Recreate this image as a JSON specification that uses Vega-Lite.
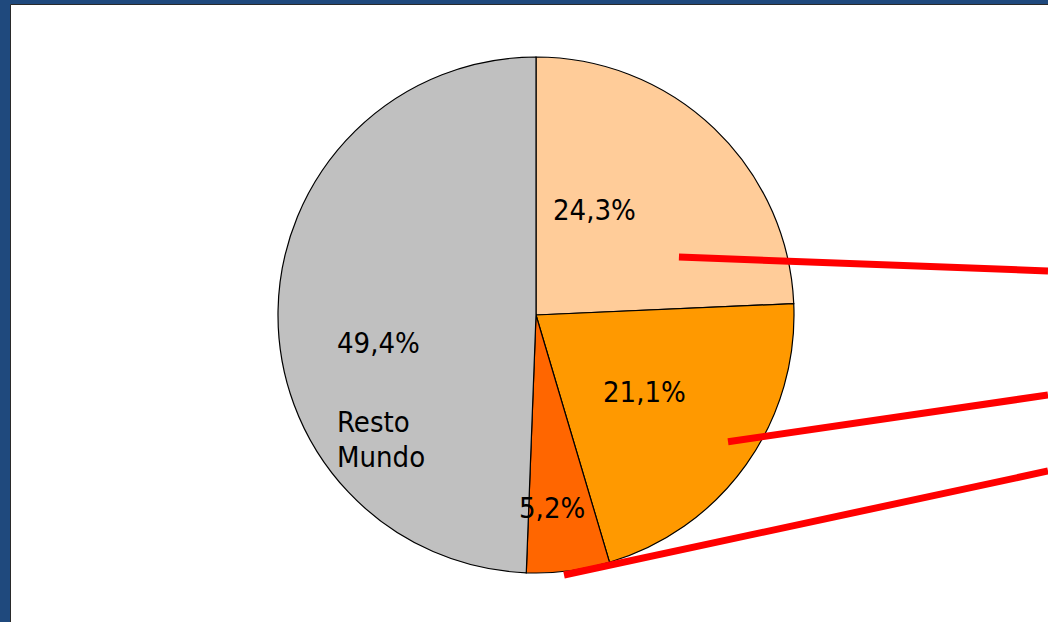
{
  "$schema": "https://vega.github.io/schema/vega-lite/v6.json",
  "width": 1048,
  "height": 622,
  "autosize": {"type": "fit", "contains": "padding"},
  "padding": {"left": 10, "top": 4, "right": 0, "bottom": 0},
  "background": "#1F497D",
  "view": {"fill": "white", "stroke": "#2a2a2a", "strokeWidth": 1},
  "datasets": {
    "slices": [
      {"name": "A", "value": 24.3, "order": 1},
      {"name": "B", "value": 21.1, "order": 2},
      {"name": "C", "value": 5.2, "order": 3},
      {"name": "Resto Mundo", "value": 49.4, "order": 4}
    ],
    "labels": [
      {"text": "24,3%", "u": 0.0659, "v": 0.3682},
      {"text": "21,1%", "u": 0.2597, "v": -0.336},
      {"text": "5,2%", "u": -0.0659, "v": -0.787},
      {"text": "49,4%", "u": -0.7713, "v": -0.146},
      {"text": "Resto", "u": -0.7713, "v": -0.452},
      {"text": "Mundo", "u": -0.7713, "v": -0.588}
    ],
    "lines": [
      {"line": "L1", "pt": 1, "u": 0.554, "v": 0.2248},
      {"line": "L1", "pt": 2, "u": 1.9845, "v": 0.1705},
      {"line": "L2", "pt": 1, "u": 0.7442, "v": -0.491},
      {"line": "L2", "pt": 2, "u": 1.9845, "v": -0.31},
      {"line": "L3", "pt": 1, "u": 0.1085, "v": -1.0078},
      {"line": "L3", "pt": 2, "u": 1.9845, "v": -0.6047}
    ]
  },
  "layer": [
    {
      "data": {"name": "slices"},
      "mark": {"type": "arc", "outerRadius": 258, "stroke": "black", "strokeWidth": 1.2},
      "encoding": {
        "x": {"datum": 0, "type": "quantitative", "scale": {"domain": [-2.0388, 1.9845], "nice": false, "zero": false}, "axis": null},
        "y": {"datum": 0, "type": "quantitative", "scale": {"domain": [-1.1899, 1.2054], "nice": false, "zero": false}, "axis": null},
        "theta": {"field": "value", "type": "quantitative", "stack": true},
        "order": {"field": "order", "type": "quantitative"},
        "color": {
          "field": "name",
          "type": "nominal",
          "scale": {"domain": ["A", "B", "C", "Resto Mundo"], "range": ["#FFCC99", "#FF9900", "#FF6600", "#C0C0C0"]},
          "legend": null
        }
      }
    },
    {
      "data": {"name": "labels"},
      "mark": {"type": "text", "align": "left", "baseline": "alphabetic", "font": "DejaVu Sans Condensed", "fontSize": 29, "color": "black"},
      "encoding": {
        "x": {"field": "u", "type": "quantitative", "scale": {"domain": [-2.0388, 1.9845], "nice": false, "zero": false}, "axis": null},
        "y": {"field": "v", "type": "quantitative", "scale": {"domain": [-1.1899, 1.2054], "nice": false, "zero": false}, "axis": null},
        "text": {"field": "text", "type": "nominal"}
      }
    },
    {
      "data": {"name": "lines"},
      "mark": {"type": "line", "color": "#FF0000", "strokeWidth": 7, "strokeCap": "butt", "clip": true},
      "encoding": {
        "x": {"field": "u", "type": "quantitative", "scale": {"domain": [-2.0388, 1.9845], "nice": false, "zero": false}, "axis": null},
        "y": {"field": "v", "type": "quantitative", "scale": {"domain": [-1.1899, 1.2054], "nice": false, "zero": false}, "axis": null},
        "detail": {"field": "line", "type": "nominal"},
        "order": {"field": "pt", "type": "quantitative"}
      }
    }
  ]
}
